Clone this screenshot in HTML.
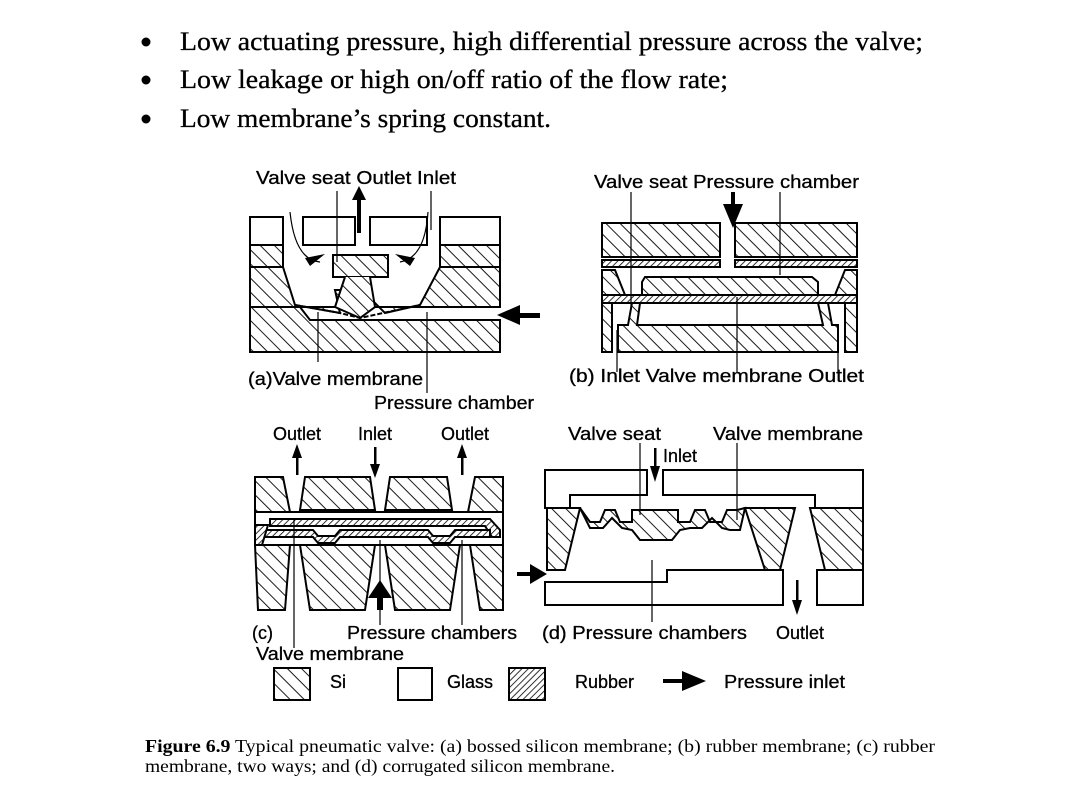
<!DOCTYPE html>
<html><head><meta charset="utf-8"><style>
html,body{margin:0;padding:0;background:#fff;}
svg{display:block;}
.s{font-family:"Liberation Sans",sans-serif;font-size:18px;fill:#000;stroke:#000;stroke-width:0.3;}
.t{font-family:"Liberation Serif",serif;font-size:26px;fill:#000;stroke:#000;stroke-width:0.3;}
.c{font-family:"Liberation Serif",serif;font-size:17.5px;fill:#000;}
</style></head><body>
<svg width="1080" height="810" viewBox="0 0 1080 810" xmlns="http://www.w3.org/2000/svg">
<defs>
<pattern id="si" patternUnits="userSpaceOnUse" width="10" height="10" patternTransform="rotate(-45)">
<rect width="10" height="10" fill="#fff"/><line x1="0" y1="0" x2="0" y2="10" stroke="#000" stroke-width="1.8"/></pattern>
<pattern id="rb" patternUnits="userSpaceOnUse" width="4.5" height="4.5" patternTransform="rotate(45)">
<rect width="4.5" height="4.5" fill="#fff"/><line x1="0" y1="0" x2="0" y2="4.5" stroke="#000" stroke-width="1.6"/></pattern>
</defs>
<circle cx="146" cy="42" r="4.5"/><circle cx="146" cy="80" r="4.5"/><circle cx="146" cy="119" r="4.5"/>
<text class="t" x="180" y="50" textLength="743" lengthAdjust="spacingAndGlyphs">Low actuating pressure, high differential pressure across the valve;</text>
<text class="t" x="180" y="88" textLength="548" lengthAdjust="spacingAndGlyphs">Low leakage or high on/off ratio of the flow rate;</text>
<text class="t" x="180" y="127" textLength="371" lengthAdjust="spacingAndGlyphs">Low membrane’s spring constant.</text>

<g stroke="#000" stroke-width="2">
<rect x="250" y="217" width="33" height="28" fill="#fff"/>
<rect x="303" y="217" width="52" height="28" fill="#fff"/>
<rect x="370" y="217" width="57" height="28" fill="#fff"/>
<rect x="440" y="217" width="60" height="28" fill="#fff"/>
<rect x="250" y="245" width="33" height="22" fill="url(#si)"/>
<rect x="440" y="245" width="60" height="22" fill="url(#si)"/>
<path d="M250,267H283L295,305L340,313L335,290L345,290L362,290L385,313L420,305L440,267H500V307H250Z" fill="url(#si)"/>
<path d="M333,255H388V277H333Z" fill="url(#si)"/>
<path d="M250,307H300L310,320H500V352H250Z" fill="url(#si)"/>
<path d="M345,277L335,307L360,318L375,307L370,277" fill="url(#si)"/>
<path d="M295,305L340,313L360,318L420,305" fill="none" stroke-dasharray="5,2"/>
<rect x="602" y="223" width="118" height="34" fill="url(#si)"/>
<rect x="735" y="223" width="122" height="34" fill="url(#si)"/>
<rect x="602" y="260" width="118" height="7" fill="url(#rb)"/>
<rect x="735" y="260" width="122" height="7" fill="url(#rb)"/>
<path d="M602,270H615L625,295H602Z" fill="url(#si)"/>
<path d="M857,270H845L835,295H857Z" fill="url(#si)"/>
<path d="M642,282L645,277H812L818,282V295H642Z" fill="url(#si)"/>
<rect x="602" y="295" width="255" height="8" fill="url(#rb)"/>
<rect x="602" y="303" width="10" height="49" fill="url(#si)"/>
<rect x="845" y="303" width="12" height="49" fill="url(#si)"/>
<path d="M618,325H628L632,303H640L637,325L823,325L818,303H828L832,325H838V352H618Z" fill="url(#si)"/>
<path d="M255,477H283L290,512H255Z" fill="url(#si)"/>
<path d="M305,477H370L375,510H300Z" fill="url(#si)"/>
<path d="M390,477H447L452,510H385Z" fill="url(#si)"/>
<path d="M475,477H503V512H468Z" fill="url(#si)"/>
<path d="M255,512H503V545H255Z" fill="#fff"/>
<path d="M270,519H490L500,530V537H492L485,526H270Z" fill="url(#rb)"/>
<path d="M262,530H313L318,536H335L340,530H428L433,536H450L455,530H490V537H455L450,543H433L428,537H340L335,543H318L313,537H262Z" fill="url(#rb)"/>
<path d="M255,525H268L262,545H255Z" fill="url(#rb)"/>
<path d="M255,545H290L285,610H258Z" fill="url(#si)"/>
<path d="M300,545H375L365,610H310Z" fill="url(#si)"/>
<path d="M385,545H460L450,610H395Z" fill="url(#si)"/>
<path d="M470,545H503V610H480Z" fill="url(#si)"/>
<path d="M545,470H647V495H570V508H545Z" fill="#fff"/>
<path d="M663,470H863V508H815V495H663Z" fill="#fff"/>
<path d="M547,508H580L565,570H547Z" fill="url(#si)"/>
<path d="M745,508H795L780,570H765Z" fill="url(#si)"/>
<path d="M580,508L590,522L600,522L605,510L615,510L620,522L632,522V510H678V522H690L695,510L705,510L710,522L722,522L727,510L737,510L745,508L740,530H730L722,528L712,518L702,528L690,528L680,530L672,540H640L632,530L622,528L612,518L603,528L590,528Z" fill="url(#si)"/>
<path d="M810,508H863V570H825Z" fill="url(#si)"/>
<path d="M545,582H667V570H783V605H545Z" fill="#fff"/>
<rect x="817" y="570" width="46" height="35" fill="#fff"/>
<rect x="274" y="668" width="36" height="32" fill="url(#si)"/>
<rect x="398" y="668" width="34" height="32" fill="#fff"/>
<rect x="509" y="668" width="36" height="32" fill="url(#rb)"/>
</g>
<g stroke="#000" stroke-width="1.2" fill="none">
<line x1="337" y1="191" x2="337" y2="262"/><line x1="431" y1="191" x2="431" y2="230"/>
<line x1="318" y1="312" x2="318" y2="362"/><line x1="427" y1="312" x2="427" y2="393"/>
<line x1="631" y1="192" x2="631" y2="310"/><line x1="780" y1="192" x2="780" y2="275"/>
<line x1="617" y1="330" x2="617" y2="372"/><line x1="737" y1="297" x2="737" y2="372"/><line x1="838" y1="330" x2="838" y2="372"/>
<line x1="294" y1="520" x2="294" y2="648"/><line x1="380" y1="540" x2="380" y2="625"/><line x1="462" y1="540" x2="462" y2="625"/>
<line x1="640" y1="443" x2="640" y2="515"/><line x1="737" y1="443" x2="737" y2="520"/><line x1="652" y1="560" x2="652" y2="622"/>
<path d="M290,212Q295,260 320,262"/><path d="M428,212Q425,258 400,262"/>
</g>
<g fill="#000">
<rect x="357" y="198" width="4" height="35"/><path d="M352,200L359,186L366,200Z"/>
<rect x="515" y="313" width="25" height="5"/><path d="M520,305L497,315L520,325Z"/>
<rect x="731" y="192" width="4" height="12"/><path d="M723,204L733,228L743,204Z"/>
<path d="M305,258L325,254L310,266Z"/><path d="M415,258L395,254L410,266Z"/>
<rect x="296" y="455" width="2.5" height="20"/><path d="M292,458L297,444L302,458Z"/>
<rect x="374" y="447" width="2.5" height="20"/><path d="M370,464L375,478L380,464Z"/>
<rect x="461" y="455" width="2.5" height="20"/><path d="M457,458L462,444L467,458Z"/>
<rect x="377" y="595" width="6" height="15"/><path d="M368,598L380,580L392,598Z"/>
<rect x="654" y="448" width="2.5" height="20"/><path d="M650,466L655,482L660,466Z"/>
<rect x="796" y="580" width="2.5" height="20"/><path d="M792,600L797,615L802,600Z"/>
<rect x="517" y="572" width="20" height="4"/><path d="M530,564L547,574L530,584Z"/>
<rect x="663" y="679" width="20" height="4"/><path d="M682,671L706,681L682,691Z"/>
</g>
<text class="s" x="256" y="184" textLength="200" lengthAdjust="spacingAndGlyphs">Valve seat Outlet  Inlet</text>
<text class="s" x="248" y="385" textLength="175" lengthAdjust="spacingAndGlyphs">(a)Valve membrane</text>
<text class="s" x="374" y="409" textLength="160" lengthAdjust="spacingAndGlyphs">Pressure chamber</text>
<text class="s" x="594" y="188" textLength="265" lengthAdjust="spacingAndGlyphs">Valve seat  Pressure chamber</text>
<text class="s" x="569" y="382" textLength="295" lengthAdjust="spacingAndGlyphs">(b) Inlet  Valve membrane  Outlet</text>
<text class="s" x="273" y="440">Outlet</text><text class="s" x="358" y="440">Inlet</text><text class="s" x="441" y="440">Outlet</text>
<text class="s" x="568" y="440" textLength="93" lengthAdjust="spacingAndGlyphs">Valve seat</text><text class="s" x="713" y="440" textLength="150" lengthAdjust="spacingAndGlyphs">Valve membrane</text>
<text class="s" x="663" y="462">Inlet</text>
<text class="s" x="252" y="639">(c)</text>
<text class="s" x="347" y="639" textLength="170" lengthAdjust="spacingAndGlyphs">Pressure chambers</text>
<text class="s" x="256" y="660" textLength="148" lengthAdjust="spacingAndGlyphs">Valve membrane</text>
<text class="s" x="542" y="639" textLength="205" lengthAdjust="spacingAndGlyphs">(d) Pressure chambers</text>
<text class="s" x="776" y="639">Outlet</text>
<text class="s" x="330" y="688">Si</text><text class="s" x="447" y="688">Glass</text>
<text class="s" x="575" y="688">Rubber</text><text class="s" x="724" y="688" textLength="121" lengthAdjust="spacingAndGlyphs">Pressure inlet</text>
<text class="c" x="145" y="752" textLength="790" lengthAdjust="spacingAndGlyphs"><tspan font-weight="bold">Figure 6.9</tspan> Typical pneumatic valve: (a) bossed silicon membrane; (b) rubber membrane; (c) rubber</text>
<text class="c" x="145" y="772" textLength="470" lengthAdjust="spacingAndGlyphs">membrane, two ways; and (d) corrugated silicon membrane.</text>
</svg>
</body></html>
